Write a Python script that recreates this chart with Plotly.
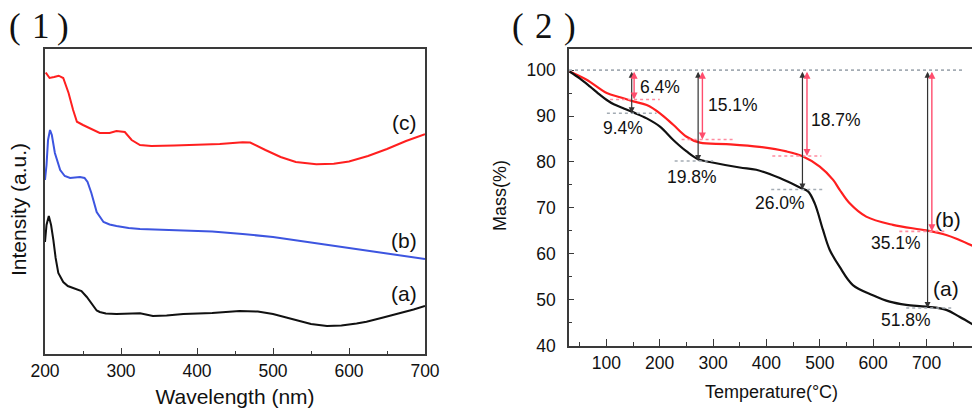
import plotly.graph_objects as go

# ---------------- Panel (1): UV-vis spectra ----------------
wl_c = [201, 206, 212, 218, 224, 231, 237, 242, 250, 259, 272, 285, 294, 305, 314, 325, 340, 370, 400, 430, 460, 470, 490, 510, 530, 557, 580, 600, 625, 650, 675, 700]
int_c = [281.5, 276, 277, 278.3, 276, 261, 244, 232.3, 229, 226, 221, 221, 223, 222, 214, 209, 208, 208.5, 209, 210, 211.7, 211.5, 204, 197, 192, 189.7, 190.2, 192.5, 198, 205, 213, 219.7]

wl_b = [200, 202, 204, 206.6, 209, 213, 220, 226, 233, 240, 246, 252, 256, 261, 268, 277, 285, 294, 310, 325, 350, 382, 420, 460, 500, 550, 600, 650, 700]
int_b = [174, 189, 214, 224, 219, 201, 184, 178, 176, 176.5, 177, 176, 172, 161, 142, 132, 129.5, 128, 126, 125, 124.5, 124, 122.5, 120, 117, 111.5, 105.7, 100.5, 95]

wl_a = [200, 202, 205, 208, 211, 214, 217.5, 224, 230, 237, 248, 255, 260, 264, 268, 272, 280, 294, 310, 325, 342, 360, 382, 420, 456, 480, 500, 520, 535, 550, 571, 590, 610, 623, 645, 667, 685, 700]
int_a = [112, 129, 138, 129, 114, 96, 81, 72, 68, 66, 63, 57, 52, 47, 43.5, 42, 40.5, 40, 40, 40.7, 38, 38.5, 40, 41, 43, 42.5, 40, 36, 32.3, 30, 28, 28.5, 30.5, 32.3, 36.5, 40.7, 44.5, 48]

uv_labels = ["(c)", "(b)", "(a)"]
uv_label_x = [673, 673, 672]
uv_label_y = [232, 114, 61]

# ---------------- Panel (2): TGA ----------------
temp_a = [31, 50, 69.5, 85, 100.7, 115, 131.8, 150.5, 175.6, 200.5, 225.4, 250.4, 272, 294, 350, 381, 425, 465.6, 478, 490.5, 506, 518.5, 537, 562, 599.5, 630.8, 662, 699.4, 737, 761.7, 788.5]
mass_a = [99.7, 98.2, 96.4, 94.9, 93.5, 92.5, 91.7, 90.8, 89.5, 87.7, 84.8, 82.3, 80.6, 80.0, 78.8, 78.3, 76.5, 74.3, 73.6, 71.0, 65.2, 60.9, 57.2, 53.2, 51.0, 49.6, 48.9, 48.5, 47.8, 46.3, 44.5]

temp_b = [31, 63, 100.7, 125.6, 150.5, 175.6, 200.5, 225.4, 250.4, 275.3, 325, 387, 437.5, 468.6, 500, 525, 537, 556, 587, 637, 699.4, 737, 761.7, 789]
mass_b = [99.7, 97.9, 95.0, 94.1, 93.2, 92.4, 90.6, 88.1, 85.5, 84.2, 83.9, 83.3, 82.3, 81.2, 79.0, 76.1, 74.0, 71.0, 68.1, 66.3, 65.1, 64.1, 63.0, 61.6]

# mass-loss steps: temperature of arrow, residual mass, label text, label position
step_temp_a = [147.5, 272, 467.5, 702]
step_mass_a = [90.6, 80.2, 74.0, 48.2]
step_temp_b = [152, 280, 476, 710]
step_mass_b = [93.6, 84.9, 81.3, 64.9]
loss_text_a = ["9.4%", "19.8%", "26.0%", "51.8%"]
loss_pos_a = [(132, 87.4), (260, 76.8), (425, 71.0), (662, 45.6)]
loss_text_b = ["6.4%", "15.1%", "18.7%", "35.1%"]
loss_pos_b = [(200, 96.4), (338, 92.4), (531, 89.2), (643, 62.3)]
dot_range_a = [(101, 194), (228, 300), (409, 509), (662, 749)]
dot_range_b = [(107, 200), (241, 337), (411, 503), (649, 739)]

tga_labels = ["(b)", "(a)"]
tga_label_x = [740, 737]
tga_label_y = [67.4, 52.5]

# panel numbers: glyph pieces and their horizontal centres (px)
panel_glyphs = [["(", "1", ")"], ["(", "2", ")"]]
panel_glyph_x = [[15, 41, 62.5], [518, 544, 570]]

FONT = "Liberation Sans, Arial, sans-serif"
SERIF = "Liberation Serif, Times New Roman, serif"
RED = "#ff1f1f"
BLUE = "#3d55e0"
BLACK = "#111111"

# the page body adds an 8 px offset; the figure fills the rest of the 980x415 window
OFF = 8
W, H = 980 - OFF, 415 - OFF


def px(p):
    return (p - OFF) / W


def py(p):
    return 1 - (p - OFF) / H


fig = go.Figure()
fig.add_trace(go.Scatter(x=wl_c, y=int_c, mode="lines", line=dict(color=RED, width=2), xaxis="x", yaxis="y", showlegend=False))
fig.add_trace(go.Scatter(x=wl_b, y=int_b, mode="lines", line=dict(color=BLUE, width=2), xaxis="x", yaxis="y", showlegend=False))
fig.add_trace(go.Scatter(x=wl_a, y=int_a, mode="lines", line=dict(color=BLACK, width=2), xaxis="x", yaxis="y", showlegend=False))

fig.add_trace(go.Scatter(x=temp_b, y=mass_b, mode="lines", line=dict(color=RED, width=2.2, shape="spline"), xaxis="x2", yaxis="y2", showlegend=False))
fig.add_trace(go.Scatter(x=temp_a, y=mass_a, mode="lines", line=dict(color=BLACK, width=2.2, shape="spline"), xaxis="x2", yaxis="y2", showlegend=False))

shapes = []
# 100 % reference line
shapes.append(dict(type="line", xref="x2", yref="y2", x0=30, x1=767, y0=100, y1=100,
                   line=dict(color="#a4acb4", width=1.6, dash="dot")))
for (x0, x1), m in zip(dot_range_a, step_mass_a):
    shapes.append(dict(type="line", xref="x2", yref="y2", x0=x0, x1=x1, y0=m, y1=m,
                       line=dict(color="#a4acb4", width=1.6, dash="dot")))
for (x0, x1), m in zip(dot_range_b, step_mass_b):
    shapes.append(dict(type="line", xref="x2", yref="y2", x0=x0, x1=x1, y0=m, y1=m,
                       line=dict(color="#ff8ca0", width=1.6, dash="dot")))

ann = []
for t, m in zip(step_temp_a, step_mass_a):
    ann.append(dict(xref="x2", yref="y2", axref="x2", ayref="y2", x=t, y=m, ax=t, ay=100,
                    text="", showarrow=True, arrowhead=2, startarrowhead=2, arrowside="end+start",
                    arrowsize=1, arrowwidth=1.2, arrowcolor="#333333", standoff=0, startstandoff=0))
for t, m in zip(step_temp_b, step_mass_b):
    ann.append(dict(xref="x2", yref="y2", axref="x2", ayref="y2", x=t, y=m, ax=t, ay=100,
                    text="", showarrow=True, arrowhead=2, startarrowhead=2, arrowside="end+start",
                    arrowsize=1, arrowwidth=1.4, arrowcolor="#ff4d6d", standoff=0, startstandoff=0))
for txt, (x, y) in zip(loss_text_a + loss_text_b, loss_pos_a + loss_pos_b):
    ann.append(dict(xref="x2", yref="y2", x=x, y=y, text=txt, showarrow=False,
                    font=dict(family=FONT, size=17.5, color=BLACK)))
for txt, x, y in zip(tga_labels, tga_label_x, tga_label_y):
    ann.append(dict(xref="x2", yref="y2", x=x, y=y, text=txt, showarrow=False,
                    font=dict(family=FONT, size=21, color=BLACK)))
for txt, x, y in zip(uv_labels, uv_label_x, uv_label_y):
    ann.append(dict(xref="x", yref="y", x=x, y=y, text=txt, showarrow=False,
                    font=dict(family=FONT, size=21, color=BLACK)))
# panel numbers
for glyphs, xs in zip(panel_glyphs, panel_glyph_x):
    for g, gx in zip(glyphs, xs):
        ann.append(dict(xref="paper", yref="paper", x=px(gx), y=py(26),
                        xanchor="center", yanchor="middle", text=g, showarrow=False,
                        font=dict(family=SERIF, size=35, color=BLACK)))
# y-axis titles
ann.append(dict(xref="paper", yref="paper", x=px(18), y=py(210), xanchor="center", yanchor="middle",
                text="Intensity (a.u.)", textangle=-90, showarrow=False,
                font=dict(family=FONT, size=21, color=BLACK)))
ann.append(dict(xref="paper", yref="paper", x=px(500), y=py(196), xanchor="center", yanchor="middle",
                text="Mass(%)", textangle=-90, showarrow=False,
                font=dict(family=FONT, size=18, color=BLACK)))

axis_common = dict(showline=True, linecolor="#3a3a3a", linewidth=1.6, mirror=True,
                   showgrid=False, zeroline=False, automargin=False,
                   tickfont=dict(family=FONT, size=17.5, color=BLACK), tickcolor="#3a3a3a")

fig.update_layout(
    width=W, height=H,
    margin=dict(l=0, r=0, t=0, b=0, autoexpand=False),
    paper_bgcolor="white", plot_bgcolor="white",
    shapes=shapes, annotations=ann,
    xaxis=dict(domain=[px(45), px(425)], range=[200, 700], anchor="y",
               ticks="inside", ticklen=6, tickwidth=1.2, dtick=100, tick0=0,
               minor=dict(dtick=50, ticks="inside", ticklen=3, tickcolor="#3a3a3a"),
               title=dict(text="Wavelength (nm)", font=dict(family=FONT, size=21, color=BLACK), standoff=10),
               **axis_common),
    yaxis=dict(domain=[py(354), py(49)], range=[0, 305], anchor="x",
               showticklabels=False, ticks="",
               **axis_common),
    xaxis2=dict(domain=[px(569), px(974)], range=[30, 789], anchor="y2",
                ticks="inside", ticklen=7, tickwidth=1.2, dtick=100, tick0=0,
                minor=dict(dtick=50, ticks="inside", ticklen=4, tickcolor="#3a3a3a"),
                title=dict(text="Temperature(°C)", font=dict(family=FONT, size=18, color=BLACK), standoff=14),
                **axis_common),
    yaxis2=dict(domain=[py(345.7), py(49)], range=[40, 104.6], anchor="x2",
                ticks="inside", ticklen=5, tickwidth=1.2, dtick=10, tick0=0, ticklabelstandoff=8,
                minor=dict(dtick=5, ticks="inside", ticklen=3, tickcolor="#3a3a3a"),
                **axis_common),
)

fig.write_html("out.html")
